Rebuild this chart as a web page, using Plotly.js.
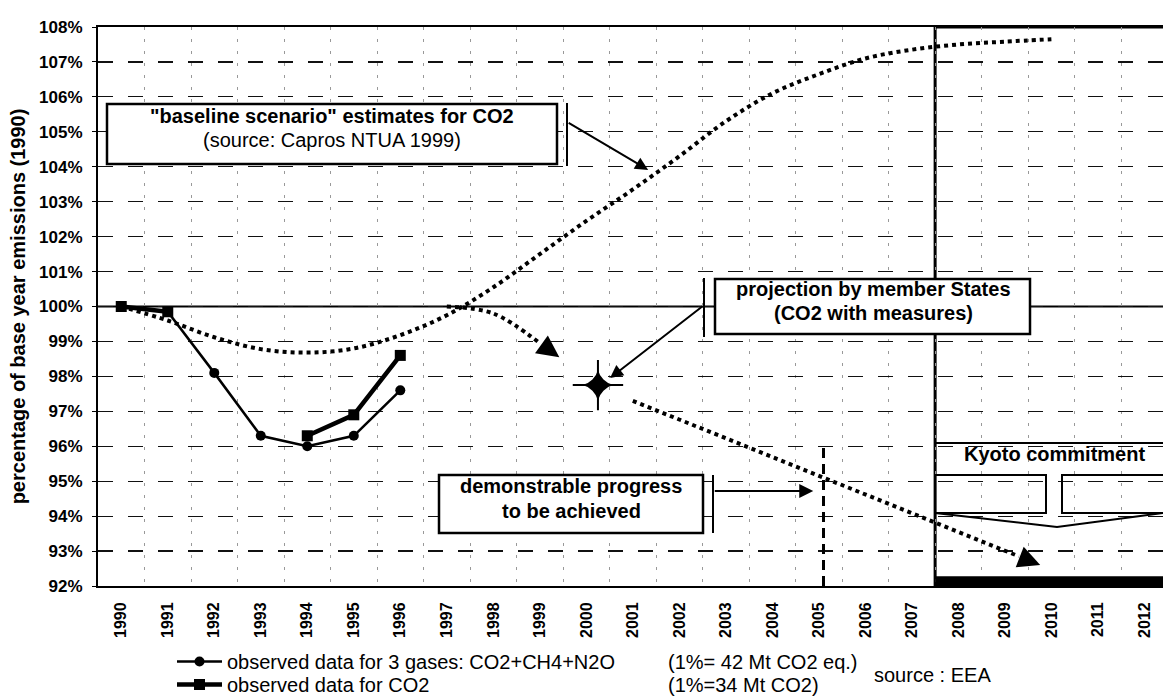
<!DOCTYPE html>
<html><head><meta charset="utf-8">
<script src="https://cdn.plot.ly/plotly-3.0.1.min.js"></script>
<style>html,body{margin:0;padding:0;background:#fff;}</style>
</head><body><div id="chart" style="width:1163px;height:699px;"></div>
<script>
// ---- data ----
const years = [1990,1991,1992,1993,1994,1995,1996,1997,1998,1999,2000,2001,2002,2003,2004,2005,2006,2007,2008,2009,2010,2011,2012];
const yearLabels = years.map(String);
const obsYears = [1990,1991,1992,1993,1994,1995,1996];
const gases3 = [100.0, 99.85, 98.1, 96.3, 96.0, 96.3, 97.6];
const co2Obs = [100.0, 99.85, null, null, 96.3, 96.9, 98.6];
const baselineYears = [1990,1991,1992,1993,1994,1995,1996,1997,1998,1999,2000,2001,2002,2003,2004,2005,2006,2007,2008,2009,2010];
const baseline = [100.0, 99.6, 99.12, 98.78, 98.68, 98.8, 99.18, 99.75, 100.55, 101.5, 102.45, 103.35, 104.3, 105.3, 106.1, 106.65, 107.1, 107.35, 107.5, 107.58, 107.65];
const projYears = [1997, 1998, 1999];
const projValues = [100.0, 99.8, 98.95];
const msYear = [2000.25];
const msValue = [97.75];
const trendYears = [2001, 2009.3];
const trendValues = [97.3, 92.85];
const progressYear = 2005.1;
const kyotoStart = 2007.5;
const kyotoTarget = 92;
const yTicks = [92,93,94,95,96,97,98,99,100,101,102,103,104,105,106,107,108];

// ---- geometry helpers (pixel -> paper) ----
const L = 98, T = 27, W = 1065, H = 559;
const PX = v => (v - L) / W;
const PY = v => 1 - (v - T) / H;
const FONT = "Arial, 'Liberation Sans', sans-serif";

const traces = [
  {x: obsYears, y: gases3, mode: 'lines+markers', name: 'observed data for 3 gases: CO2+CH4+N2O',
   legend: 'legend',
   line: {color: '#000', width: 2.5}, marker: {symbol: 'circle', size: 10, color: '#000'}},
  {x: obsYears, y: co2Obs, mode: 'lines+markers', name: 'observed data for CO2', connectgaps: false,
   legend: 'legend2',
   line: {color: '#000', width: 4.5}, marker: {symbol: 'square', size: 11, color: '#000'}},
  {x: baselineYears, y: baseline, mode: 'lines', showlegend: false,
   line: {color: '#000', width: 4, dash: 'dot', shape: 'spline'}},
  {x: projYears, y: projValues, mode: 'lines', showlegend: false,
   line: {color: '#000', width: 4, dash: 'dot', shape: 'spline'}},
  {x: trendYears, y: trendValues, mode: 'lines', showlegend: false,
   line: {color: '#000', width: 4, dash: 'dot'}},
  {x: msYear, y: msValue, mode: 'markers', showlegend: false,
   marker: {symbol: 'cross-thin', size: 36, color: '#000', line: {color: '#000', width: 2}}},
  {x: msYear, y: msValue, mode: 'markers', showlegend: false,
   marker: {symbol: 'star-diamond', size: 22, color: '#000'}}
];

const shapes = [
  // Kyoto region (white panel hides the grid)
  {type: 'rect', xref: 'x', yref: 'paper', x0: kyotoStart, x1: 2014, y0: 0, y1: 1,
   fillcolor: '#fff', line: {color: '#000', width: 3}, layer: 'between'},
  // 100% reference line
  {type: 'line', xref: 'paper', yref: 'y', x0: 0, x1: 1, y0: 100, y1: 100,
   line: {color: '#000', width: 2}, layer: 'between'},
  // Kyoto target bar
  {type: 'rect', xref: 'x', yref: 'y', x0: kyotoStart, x1: 2014, y0: kyotoTarget, y1: kyotoTarget + 0.28,
   fillcolor: '#000', line: {width: 0}, layer: 'above'},
  // demonstrable progress dashed line
  {type: 'line', xref: 'x', yref: 'paper', x0: progressYear, x1: progressYear, y0: 0, y1: PY(443),
   line: {color: '#000', width: 3, dash: '10px,6px'}, layer: 'above'},
  // boxes
  {type: 'rect', xref: 'paper', yref: 'paper', x0: PX(107), x1: PX(557), y0: PY(164), y1: PY(104),
   fillcolor: '#fff', line: {color: '#000', width: 2.5}, layer: 'above'},
  {type: 'line', xref: 'paper', yref: 'paper', x0: PX(567), x1: PX(567), y0: PY(166), y1: PY(103),
   line: {color: '#000', width: 2}, layer: 'above'},
  {type: 'rect', xref: 'paper', yref: 'paper', x0: PX(715), x1: PX(1030), y0: PY(334), y1: PY(279),
   fillcolor: '#fff', line: {color: '#000', width: 2.5}, layer: 'above'},
  {type: 'line', xref: 'paper', yref: 'paper', x0: PX(704), x1: PX(704), y0: PY(337), y1: PY(278),
   line: {color: '#000', width: 2}, layer: 'above'},
  {type: 'rect', xref: 'paper', yref: 'paper', x0: PX(439), x1: PX(703), y0: PY(533), y1: PY(475),
   fillcolor: '#fff', line: {color: '#000', width: 2.5}, layer: 'above'},
  {type: 'line', xref: 'paper', yref: 'paper', x0: PX(713), x1: PX(713), y0: PY(533), y1: PY(475),
   line: {color: '#000', width: 2}, layer: 'above'},
  // Kyoto commitment callout
  {type: 'line', xref: 'paper', yref: 'paper', x0: PX(935), x1: 1.02, y0: PY(443), y1: PY(443),
   line: {color: '#000', width: 2}, layer: 'above'},
  {type: 'rect', xref: 'paper', yref: 'paper', x0: PX(935), x1: PX(1046), y0: PY(513), y1: PY(475),
   line: {color: '#000', width: 2}, layer: 'above'},
  {type: 'rect', xref: 'paper', yref: 'paper', x0: PX(1062), x1: PX(1180), y0: PY(513), y1: PY(475),
   line: {color: '#000', width: 2}, layer: 'above'},
  {type: 'path', xref: 'paper', yref: 'paper',
   path: 'M ' + PX(935) + ',' + PY(513) + ' L ' + PX(1057) + ',' + PY(527) + ' L ' + PX(1163) + ',' + PY(513),
   line: {color: '#000', width: 2}, layer: 'above'}
];

function label(text, cx, cy, size, weight) {
  return {xref: 'paper', yref: 'paper', x: PX(cx), y: PY(cy), text: text, showarrow: false,
          xanchor: 'center', yanchor: 'middle', font: {family: FONT, size: size, color: '#000', weight: weight || 'bold'}};
}
function leftLabel(text, lx, cy, size) {
  return {xref: 'paper', yref: 'paper', x: PX(lx), y: PY(cy), text: text, showarrow: false,
          xanchor: 'left', yanchor: 'middle', font: {family: FONT, size: size, color: '#000'}};
}
function arrow(x, y, ax, ay, size) {
  return {xref: 'x', yref: 'y', x: x, y: y, ax: ax, ay: ay, text: '', showarrow: true,
          arrowhead: 2, arrowsize: size || 1.3, arrowwidth: 2, arrowcolor: '#000', standoff: 0};
}

const annotations = [
  label('"baseline scenario" estimates for CO2', 332, 116, 20, 'bold'),
  label('(source: Capros NTUA 1999)', 332, 140, 20, 'normal'),
  label('projection by member States', 873, 289, 20, 'bold'),
  label('(CO2 with measures)', 873, 313, 20, 'bold'),
  label('demonstrable progress', 571, 486, 20, 'bold'),
  label('to be achieved', 571, 511, 20, 'bold'),
  label('Kyoto commitment', 1054, 454, 20, 'bold'),
  leftLabel('(1%= 42 Mt CO2 eq.)', 666, 662, 20),
  leftLabel('(1%=34 Mt CO2)', 666, 685, 20),
  leftLabel('source : EEA', 872, 675, 20),
  arrow(2001.33, 103.91, -81, -48, 1.3),
  arrow(2000.51, 97.95, 94, -73, 1.3),
  arrow(2004.88, 94.72, -100, 0, 1.4),
  arrow(1999.42, 98.55, -14, -10, 2.2),
  arrow(2009.76, 92.6, -18, -7, 2.2)
];

const legendBase = {xanchor: 'left', yanchor: 'top', orientation: 'v',
  font: {family: FONT, size: 20, color: '#000'}, bgcolor: 'rgba(0,0,0,0)', itemwidth: 45};

const layout = {
  width: 1163, height: 699,
  margin: {l: L, r: 0, t: T, b: 699 - T - H, pad: 0, autoexpand: false},
  paper_bgcolor: '#fff', plot_bgcolor: '#fff',
  font: {family: FONT, color: '#000'},
  showlegend: true,
  legend: Object.assign({x: PX(172), y: PY(642)}, legendBase),
  legend2: Object.assign({x: PX(172), y: PY(665)}, legendBase),
  xaxis: {range: [1989.5, 2012.4], tickmode: 'array', tickvals: years, ticktext: yearLabels,
          tickangle: -90, tickfont: {family: FONT, size: 16, weight: 'bold', color: '#000'},
          showgrid: false, zeroline: false, showline: true, linecolor: '#000', linewidth: 2, mirror: true,
          ticks: '', ticklabelstandoff: 8, automargin: false,
          minor: {tickmode: 'array', tickvals: [1989.5].concat(years.map(v => v + 0.5)), showgrid: true,
                  gridcolor: '#999', griddash: '3px,9px', gridwidth: 1, ticks: ''}},
  yaxis: {range: [92, 108], tickmode: 'array', tickvals: yTicks, ticktext: yTicks.map(v => v + '%'),
          tickfont: {family: FONT, size: 17, weight: 'bold', color: '#000'},
          showgrid: true, gridcolor: '#111', griddash: 'longdash', gridwidth: 1.2,
          zeroline: false, showline: true, linecolor: '#000', linewidth: 2, mirror: false,
          ticks: 'outside', ticklen: 4, tickcolor: '#000', ticklabelstandoff: 6, automargin: false,
          title: {text: 'percentage of base year emissions (1990)', standoff: 8,
                  font: {family: FONT, size: 20, weight: 'bold', color: '#000'}}},
  shapes: shapes,
  annotations: annotations
};

Plotly.newPlot('chart', traces, layout, {displayModeBar: false, staticPlot: true});
</script></body></html>
